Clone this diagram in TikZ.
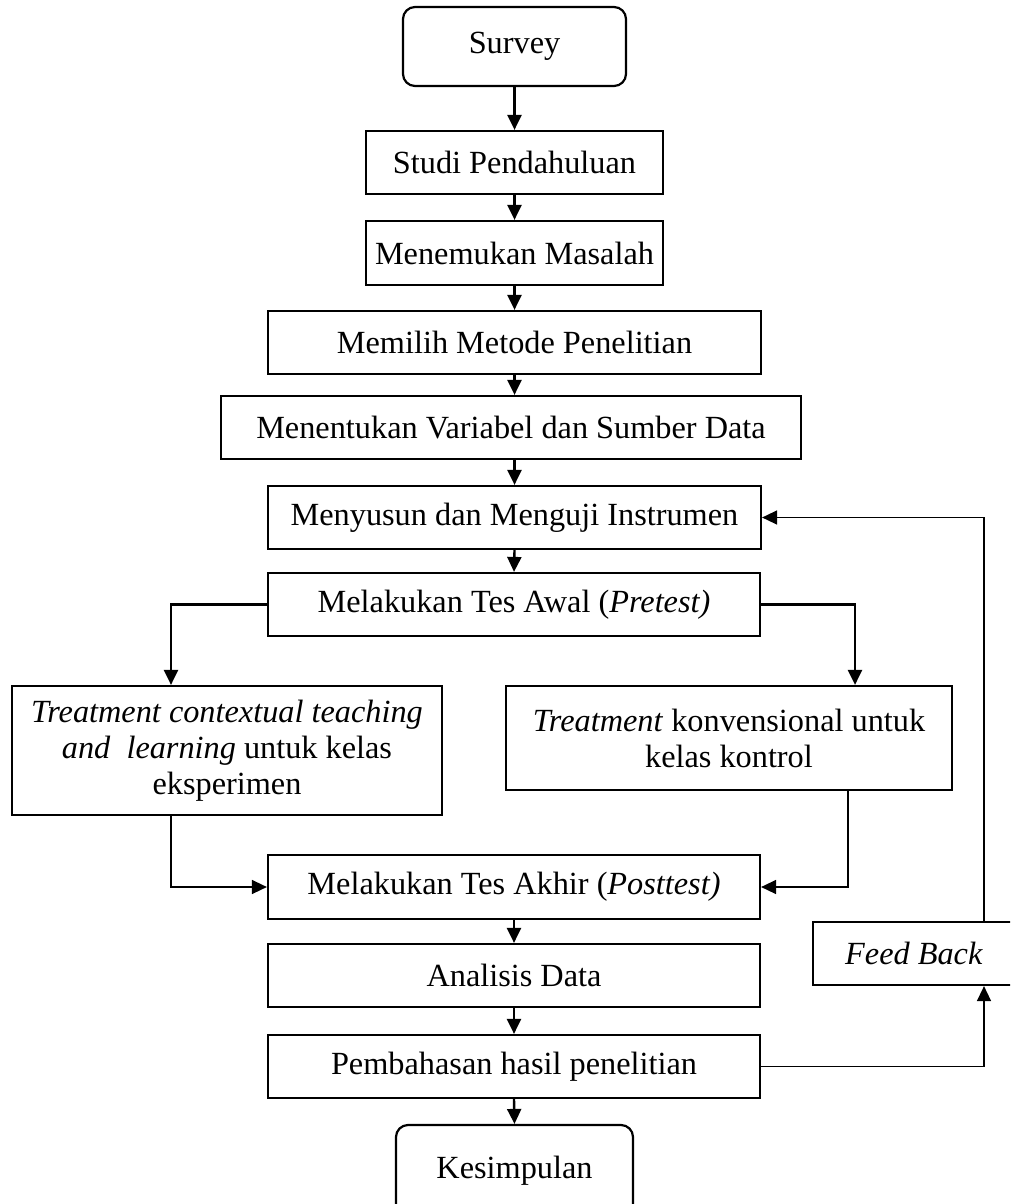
\documentclass[tikz,border=0pt]{standalone}
\usepackage{fontspec}
\setmainfont{Liberation Serif}
\usetikzlibrary{arrows.meta}
\begin{document}
\begin{tikzpicture}[x=1pt,y=-1pt,
  box/.style={draw, line width=2.2pt, inner sep=0pt, align=center, font=\fontsize{32.3}{36}\selectfont},
  rbox/.style={box, rounded corners=12pt},
  flow/.style={line width=2.4pt, -{Triangle[length=15pt,width=14pt]}},
  thinflow/.style={line width=1.5pt, -{Triangle[length=15pt,width=14pt]}}]
\useasboundingbox (0,0) rectangle (1010,1204);
\clip (0,0) rectangle (1010,1204);
\node[rbox, minimum width=223pt, minimum height=79pt] (survey) at (514.5,46.5) {Survey};
\node[box, minimum width=297pt, minimum height=63pt] (studi) at (514.5,162.5) {Studi Pendahuluan};
\node[box, minimum width=297pt, minimum height=64pt] (masalah) at (514.5,253) {Menemukan Masalah};
\node[box, minimum width=493pt, minimum height=63pt] (metode) at (514.5,342.5) {Memilih Metode Penelitian};
\node[box, minimum width=580pt, minimum height=63pt] (variabel) at (511,427.5) {Menentukan Variabel dan Sumber Data};
\node[box, minimum width=493pt, minimum height=63pt] (instrumen) at (514.5,517.5) {Menyusun dan Menguji Instrumen};
\node[box, minimum width=492pt, minimum height=63pt] (pretest) at (514,604.5) {Melakukan Tes Awal (\textit{Pretest)}};
\node[box, minimum width=430pt, minimum height=129pt] (ctl) at (227,750.5) {\textit{Treatment contextual teaching}\\\textit{and~ learning} untuk kelas\\eksperimen};
\node[box, minimum width=446pt, minimum height=104pt] (konv) at (729,738) {\textit{Treatment} konvensional untuk\\kelas kontrol};
\node[box, minimum width=492pt, minimum height=64pt] (posttest) at (514,887) {Melakukan Tes Akhir (\textit{Posttest)}};
\node[box, minimum width=492pt, minimum height=63pt] (analisis) at (514,975.5) {Analisis Data};
\node[box, minimum width=492pt, minimum height=63pt] (pembahasan) at (514,1066.5) {Pembahasan hasil penelitian};
\node[rbox, minimum width=237pt, minimum height=92pt] (kesimpulan) at (514.5,1171) {Kesimpulan};
\node[box, minimum width=202pt, minimum height=63pt] (fb) at (914,953.5) {\textit{Feed Back}};
\coordinate (lx) at (171,0);
\coordinate (rx) at (855,0);
\coordinate (rx2) at (848,0);
\coordinate (fx) at (984,0);
\draw[flow] (survey.south) -- (studi.north);
\draw[flow] (studi.south) -- (masalah.north);
\draw[flow] (masalah.south) -- (metode.north);
\draw[flow] (metode.south) -- (metode.south |- variabel.north);
\draw[flow] (metode.south |- variabel.south) -- (instrumen.north);
\draw[flow] (instrumen.south) -- (pretest.north);
\draw[flow] (pretest.west) -| (lx |- ctl.north);
\draw[flow] (pretest.east) -| (rx |- konv.north);
\draw[thinflow] (lx |- ctl.south) |- (posttest.west);
\draw[thinflow] (rx2 |- konv.south) |- (posttest.east);
\draw[flow] (posttest.south) -- (analisis.north);
\draw[flow] (analisis.south) -- (pembahasan.north);
\draw[flow] (pembahasan.south) -- (kesimpulan.north);
\draw[thinflow] (pembahasan.east) -| (fx |- fb.south);
\draw[thinflow] (fx |- fb.north) |- (instrumen.east);
\end{tikzpicture}
\end{document}
